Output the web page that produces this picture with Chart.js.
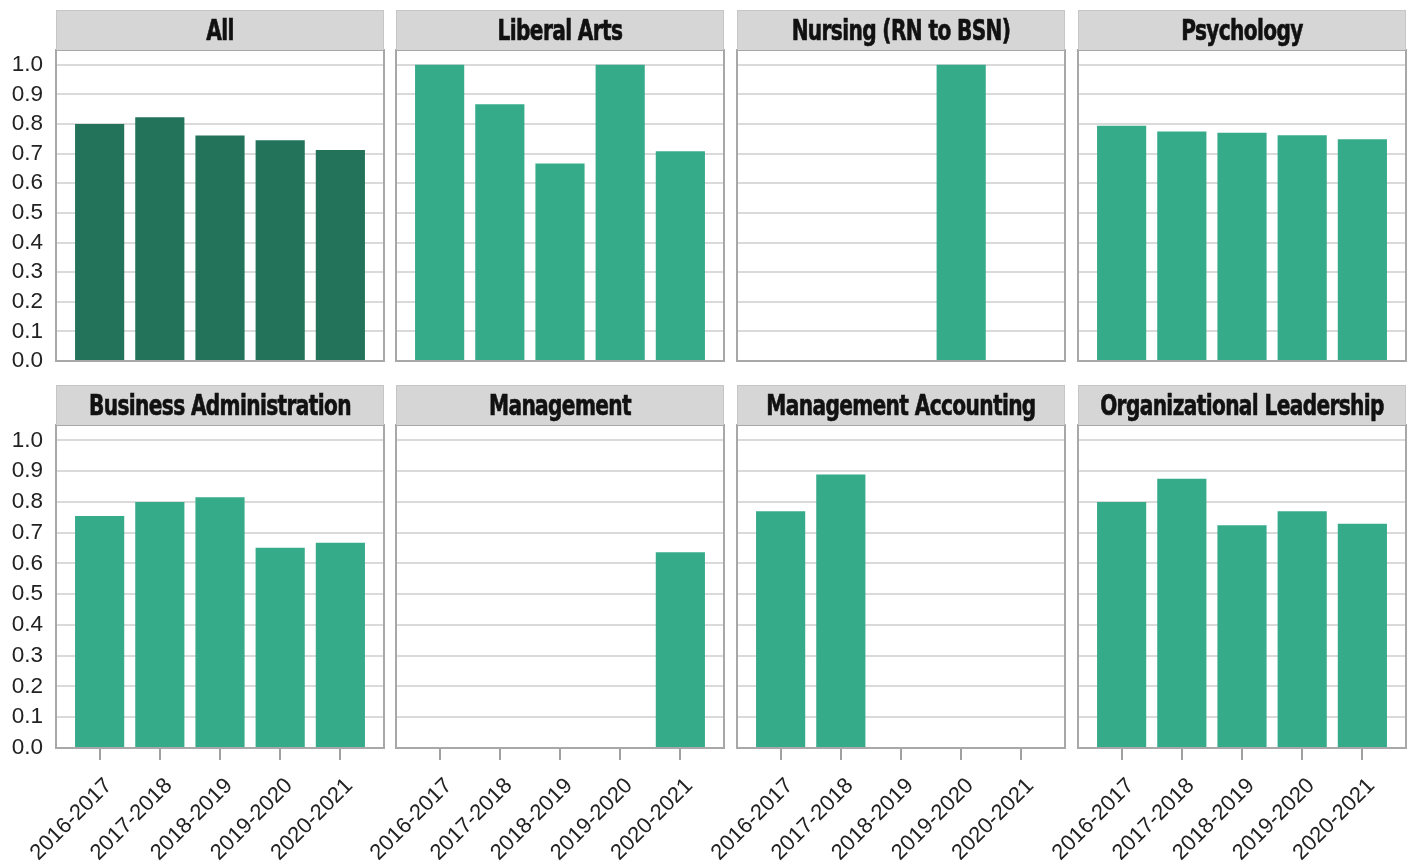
<!DOCTYPE html>
<html>
<head>
<meta charset="utf-8">
<script src="https://cdn.jsdelivr.net/npm/chart.js@4.4.1/dist/chart.umd.min.js"></script>
<style>
  body { margin: 0; background: #fff; width: 1410px; height: 865px; position: relative; overflow: hidden; }
  canvas { position: absolute; }
  .hdr {
    position: absolute; box-sizing: border-box; width: 328px; height: 40px;
    background: #d6d6d6; border: 1px solid #c6c6c6; border-bottom: none;
    line-height: 40px; color: #111; white-space: nowrap; overflow: visible;
  }
  .hdr span {
    position: absolute; left: 50%; top: 0;
    transform: translateX(-50%) scaleX(0.8); transform-origin: center;
    font-family: "DejaVu Sans Condensed", "Liberation Sans", sans-serif;
    font-weight: bold; font-size: 28px; letter-spacing: -0.8px;
    -webkit-text-stroke: 0.6px #111;
  }
</style>
</head>
<body>
<script>
// school years on the x axis
const years = ['2016-2017', '2017-2018', '2018-2019', '2019-2020', '2020-2021'];
const programs = ['All', 'Liberal Arts', 'Nursing (RN to BSN)', 'Psychology',
  'Business Administration', 'Management', 'Management Accounting', 'Organizational Leadership'];

// rates (null = no bar)
const allRates = [0.80, 0.823, 0.761, 0.745, 0.712];
const liberalArts = [1.0, 0.867, 0.667, 1.0, 0.708];
const nursing = [null, null, null, 1.0, null];
const psychology = [0.794, 0.775, 0.771, 0.762, 0.749];
const businessAdmin = [0.754, 0.80, 0.815, 0.651, 0.667];
const management = [null, null, null, null, 0.636];
const mgmtAccounting = [0.77, 0.889, null, null, null];
const orgLeadership = [0.80, 0.875, 0.724, 0.77, 0.729];

const seriesList = [allRates, liberalArts, nursing, psychology,
  businessAdmin, management, mgmtAccounting, orgLeadership];

// layout
const colLeft = [56, 396, 737, 1078];
const rowTop = [10, 385];
const panelW = 328, headerH = 40, plotH = 323, axisW = 56;

// grey frame round each plot area
const framePlugin = {
  id: 'frame',
  afterDatasetsDraw(chart) {
    const a = chart.chartArea, ctx = chart.ctx;
    ctx.save();
    ctx.strokeStyle = '#a8a8a8';
    ctx.lineWidth = 2;
    ctx.strokeRect(a.left, a.top, a.right - a.left, a.bottom - a.top);
    ctx.restore();
  }
};

function makePanel(k) {
  const c = k % 4, r = Math.floor(k / 4);
  const left = colLeft[c] - axisW;
  const top = rowTop[r] + headerH - 1;
  const width = axisW + panelW + 1;
  const height = r === 0 ? 1 + plotH + 12 : 865 - top;

  const cv = document.createElement('canvas');
  cv.width = width; cv.height = height;
  cv.style.left = left + 'px'; cv.style.top = top + 'px';
  document.body.appendChild(cv);

  const hd = document.createElement('div');
  hd.className = 'hdr';
  hd.style.left = colLeft[c] + 'px';
  hd.style.top = rowTop[r] + 'px';
  const sp = document.createElement('span');
  sp.textContent = programs[k];
  hd.appendChild(sp);
  document.body.appendChild(hd);

  const vals = seriesList[k];
  new Chart(cv, {
    type: 'bar',
    data: {
      datasets: [{
        data: vals.map((v, i) => ({ x: i, y: v })),
        backgroundColor: k === 0 ? '#22735a' : '#35ab8a',
        barPercentage: 0.817,
        categoryPercentage: 1
      }]
    },
    options: {
      responsive: false,
      animation: false,
      layout: { padding: { top: 1, right: 1, bottom: r === 0 ? 12 : 0, left: 0 } },
      plugins: { legend: { display: false }, tooltip: { enabled: false } },
      scales: {
        x: {
          type: 'linear',
          display: r === 1,
          offset: false,
          min: -0.725,
          max: 4.725,
          border: { display: false },
          grid: { offset: false, drawOnChartArea: false, drawTicks: true, tickLength: 12, color: '#a0a0a0', lineWidth: 2 },
          ticks: {
            stepSize: 1, includeBounds: false, autoSkip: false,
            minRotation: 45, maxRotation: 45, padding: 13, labelOffset: 9,
            color: '#222', font: { family: 'Liberation Sans', size: 22 },
            callback: v => years[v]
          },
          afterFit: s => { s.height = height - 1 - plotH; s.paddingLeft = 0; s.paddingRight = 0; }
        },
        y: {
          min: 0,
          max: 1.05,
          border: { display: false },
          grid: { color: '#dadada', lineWidth: 2, drawTicks: false },
          ticks: {
            display: c === 0, stepSize: 0.1, includeBounds: false, padding: 13,
            color: '#222', font: { family: 'Liberation Sans', size: 22.5 },
            callback: v => Number(v).toFixed(1)
          },
          afterFit: s => { s.width = axisW; s.paddingTop = 0; s.paddingBottom = 0; }
        }
      }
    },
    plugins: [framePlugin]
  });
}

for (let k = 0; k < programs.length; k++) makePanel(k);
</script>
</body>
</html>
